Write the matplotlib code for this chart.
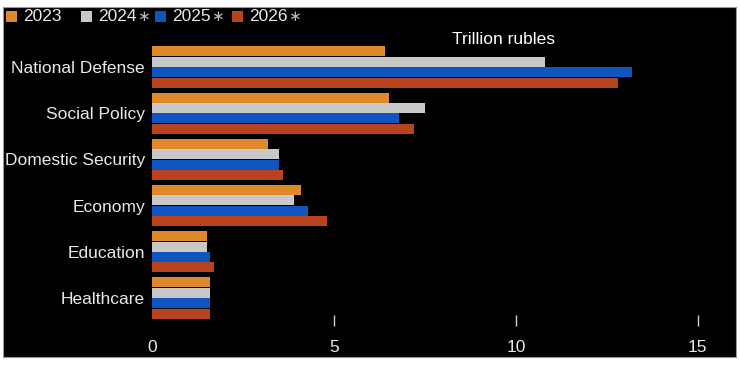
import matplotlib
matplotlib.use('Agg')
import matplotlib.pyplot as plt
import numpy as np
from matplotlib.patches import Rectangle

categories = ['National Defense', 'Social Policy', 'Domestic Security',
              'Economy', 'Education', 'Healthcare']
years = ['2023', '2024*', '2025*', '2026*']
v2023 = [6.4, 6.5, 3.2, 4.1, 1.5, 1.6]
v2024 = [10.8, 7.5, 3.5, 3.9, 1.5, 1.6]
v2025 = [13.2, 6.8, 3.5, 4.3, 1.6, 1.6]
v2026 = [12.8, 7.2, 3.6, 4.8, 1.7, 1.6]
colors = ['#E0892A', '#C8C8C8', '#0E55C0', '#B7441E']
xticks = [0, 5, 10, 15]

plt.rcParams['font.family'] = ['Liberation Sans', 'DejaVu Sans']


def main():
    W, H = 740, 366
    fig = plt.figure(figsize=(W / 100, H / 100), dpi=100)
    fig.patch.set_facecolor('white')

    # black panel
    bg = fig.add_axes([3 / W, 1 - 357 / H, 733 / W, 350 / H], zorder=0)
    bg.set_facecolor('black')
    bg.set_xticks([])
    bg.set_yticks([])
    for s in bg.spines.values():
        s.set_color('#999999')
        s.set_linewidth(0.8)

    top, bot = 41.6, 325.7
    ax = fig.add_axes([152 / W, 1 - bot / H, (736 - 152) / W, (bot - top) / H],
                      zorder=2)
    ax.set_facecolor('none')
    for s in ax.spines.values():
        s.set_visible(False)

    n = len(categories)
    y = np.arange(n)[::-1].astype(float)
    h = 0.225
    series = [v2023, v2024, v2025, v2026]
    for i, vals in enumerate(series):
        ax.barh(y + (1.5 - i) * h, vals, height=h * 0.95, color=colors[i],
                label=years[i], zorder=2)

    ax.set_xlim(0, 16.05)
    ax.set_ylim(-0.6, n - 0.45)
    ax.set_yticks(y)
    ax.set_yticklabels(categories, fontsize=12.5, color='#E8E8E8')
    ax.tick_params(axis='y', length=0, pad=5)
    ax.set_xticks(xticks)
    ax.set_xticklabels([str(t) for t in xticks], fontsize=12.5, color='#E8E8E8')
    ax.tick_params(axis='x', direction='in', length=8, width=1, color='#D0D0D0',
                   pad=10)
    ax.xaxis.get_major_ticks()[0].tick1line.set_visible(False)

    fig.text(503 / W, 1 - 40 / H, 'Trillion rubles', ha='center', va='center',
             fontsize=12.5, color='white')

    # legend along the top
    legend_x = [6, 81, 155, 232]
    for i, lab in enumerate(years):
        x0 = legend_x[i]
        fig.patches.append(Rectangle((x0 / W, 1 - 22 / H), 11 / W, 11 / H,
                                     transform=fig.transFigure,
                                     facecolor=colors[i], zorder=3))
        base = lab.rstrip('*')
        t = fig.text((x0 + 17) / W, 1 - 16.5 / H, base, fontsize=12.5,
                     color='#E8E8E8', va='center', ha='left')
        if lab.endswith('*'):
            fig.canvas.draw()
            end = t.get_window_extent().x1
            fig.text((end + 0.5) / W, 1 - 16.5 / H, '\u2217', fontsize=11,
                     color='#BBBBBB', va='center', ha='left',
                     family='DejaVu Sans')

    fig.savefig('out.png', dpi=100, facecolor='white')


if __name__ == "__main__":
    main()
